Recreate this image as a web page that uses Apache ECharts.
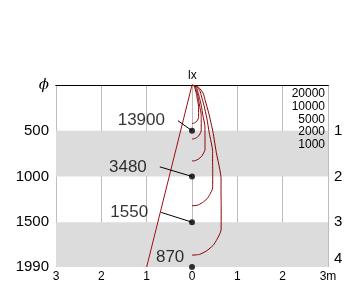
<!DOCTYPE html>
<html><head><meta charset="utf-8">
<script src="https://cdn.jsdelivr.net/npm/echarts@6/dist/echarts.min.js"></script>
<style>html,body{margin:0;padding:0;background:#fff}#c{width:360px;height:308px}</style>
</head><body><div id="c"></div>
<script>
// ---- data (x in m, depth in mm) ----
const depthTicks = [0, 500, 1000, 1500, 1990];
const distanceTicks = [-3, -2, -1, 0, 1, 2, 3];
const rowLabels = ['1', '2', '3', '4'];
const centerDepth = [500, 1000, 1500, 1990];
const centerLux = [13900, 3480, 1550, 870];
const isoluxLevels = [20000, 10000, 5000, 2000, 1000];
const beamEdge = [[0, 0], [-1, 1990]];
const curve20000 = [[0,0],[0.033,6],[0.055,20],[0.065,38],[0.084,70],[0.104,115],[0.121,166],[0.145,232],[0.145,298],[0.145,358],[0.124,381],[0.106,396],[0.072,410],[0.037,418],[0,420]];
const curve10000 = [[0,0],[0.046,8],[0.078,28],[0.092,53],[0.118,99],[0.146,162],[0.170,234],[0.203,325],[0.203,366],[0.204,419],[0.203,503],[0.174,536],[0.149,556],[0.101,575],[0.051,588],[0,590]];
const curve5000 = [[0,0],[0.065,12],[0.109,40],[0.129,75],[0.165,139],[0.206,228],[0.239,329],[0.286,457],[0.286,515],[0.287,589],[0.286,708],[0.245,754],[0.209,782],[0.143,809],[0.072,827],[0,830]];
const curve2000 = [[0,0],[0.104,18],[0.174,63],[0.206,119],[0.263,221],[0.327,363],[0.380,523],[0.455,728],[0.454,820],[0.457,937],[0.455,1126],[0.390,1199],[0.333,1243],[0.227,1287],[0.115,1315],[0,1320]];
const curve1000 = [[0,0],[0.147,26],[0.245,89],[0.290,167],[0.371,311],[0.461,511],[0.536,737],[0.641,1025],[0.640,1155],[0.644,1321],[0.641,1587],[0.549,1689],[0.469,1752],[0.320,1814],[0.162,1853],[0,1860]];
const isoluxCurves = [curve20000, curve10000, curve5000, curve2000, curve1000];
const bands = [[500, 1000], [1500, 1990]];

// ---- layout (label anchor points for the centre values) ----
const labelLayout = [
  {anchor: [-0.31, 390], leader: true},
  {anchor: [-0.71, 895], leader: true},
  {anchor: [-0.68, 1393], leader: true},
  {anchor: [-0.17, 1886], leader: false}
];

const FONT = 'Liberation Sans';
const chart = echarts.init(document.getElementById('c'), null, {renderer: 'canvas'});

const series = [];
series.push({
  type: 'line', data: [[0, 0]], symbol: 'none', z: -1, silent: true,
  lineStyle: {width: 0},
  markArea: {silent: true, itemStyle: {color: '#dcdcdc'},
    data: bands.map(b => [{yAxis: b[0], xAxis: -3}, {yAxis: b[1], xAxis: 3}])}
});
isoluxCurves.forEach((c, i) => series.push({
  type: 'line', name: String(isoluxLevels[i]), data: c, symbol: 'none', smooth: 0.2,
  lineStyle: {color: '#8b0000', width: 1}, z: 3
}));
series.push({type: 'line', data: beamEdge, symbol: 'none', lineStyle: {color: '#a01010', width: 1}, z: 3});
labelLayout.forEach((l, i) => {
  if (l.leader) series.push({type: 'line', data: [l.anchor, [0, centerDepth[i]]], symbol: 'none',
    lineStyle: {color: '#000', width: 1}, z: 4});
});
series.push({
  type: 'scatter', data: centerDepth.map(d => [0, d]), symbol: 'circle', symbolSize: 6,
  itemStyle: {color: '#000'}, z: 5, clip: false
});
series.push({
  type: 'scatter', symbolSize: 0, z: 6,
  data: labelLayout.map((l, i) => ({value: l.anchor, name: String(centerLux[i]),
    label: {distance: l.leader ? 13 : 0}})),
  label: {show: true, position: 'left', formatter: p => p.name,
    fontFamily: FONT, fontSize: 17, color: '#000'}
});

const graphics = [
  {type: 'text', left: 188, top: 70, z: 100, style: {text: 'lx', font: '12px ' + FONT, fill: '#000'}}
];
isoluxLevels.forEach((v, i) => graphics.push({
  type: 'text', right: 35, top: 88 + i * 12.6, z: 100,
  style: {text: String(v), font: '12px ' + FONT, fill: '#000', textAlign: 'right'}
}));

chart.setOption({
  animation: false,
  grid: {left: 56, right: 32, top: 85, bottom: 41, containLabel: false},
  xAxis: [{
    type: 'value', min: -3, max: 3, interval: 1, position: 'bottom',
    axisLine: {show: true, lineStyle: {color: '#000', width: 1}},
    axisTick: {show: false},
    splitLine: {show: true, lineStyle: {color: '#bdbdbd', width: 1}},
    axisLabel: {margin: 4, fontFamily: FONT, fontSize: 12, color: '#000',
      customValues: distanceTicks,
      formatter: v => v === distanceTicks[distanceTicks.length - 1] ? Math.abs(v) + 'm' : String(Math.abs(v))}
  }, {
    type: 'value', min: -3, max: 3, interval: 1, position: 'top',
    axisLine: {show: true, onZero: false, lineStyle: {color: '#000', width: 1}},
    axisTick: {show: false}, axisLabel: {show: false}, splitLine: {show: false}
  }],
  yAxis: [{
    type: 'value', inverse: true, min: 0, max: 1990, position: 'left',
    axisLine: {show: false}, axisTick: {show: false}, splitLine: {show: false},
    axisLabel: {margin: 7, fontFamily: FONT, fontSize: 15, color: '#000',
      customValues: depthTicks,
      formatter: v => v === 0 ? '{phi|ϕ}' : String(v),
      rich: {phi: {fontFamily: 'DejaVu Serif', fontStyle: 'italic', fontSize: 15, color: '#000'}}}
  }, {
    type: 'value', inverse: true, min: 0, max: 1990, position: 'right',
    axisLine: {show: false}, axisTick: {show: false}, splitLine: {show: false},
    axisLabel: {margin: 6, fontFamily: FONT, fontSize: 15, color: '#000',
      customValues: centerDepth,
      formatter: v => {
        const i = centerDepth.indexOf(v);
        return i === centerDepth.length - 1 ? '{up|' + rowLabels[i] + '}' : rowLabels[i];
      },
      rich: {up: {fontFamily: FONT, fontSize: 15, color: '#000', padding: [0, 0, 16, 0]}}}
  }],
  series: series,
  graphic: graphics
});
</script></body></html>
